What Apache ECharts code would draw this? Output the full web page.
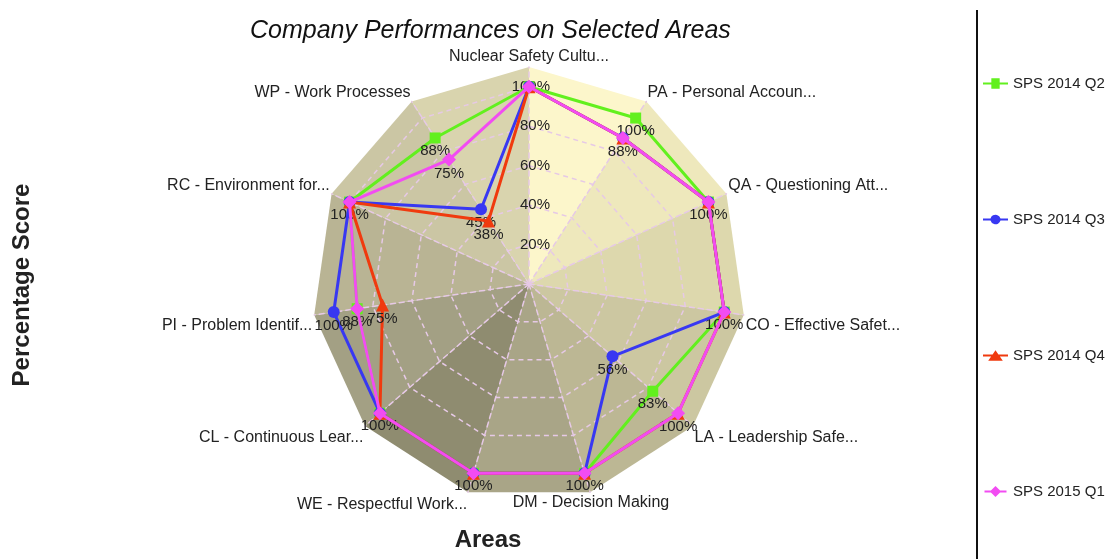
<!DOCTYPE html>
<html>
<head>
<meta charset="utf-8">
<title>Company Performances on Selected Areas</title>
<script src="https://cdn.jsdelivr.net/npm/echarts@6/dist/echarts.min.js"></script>
</head>
<body style="margin:0">
<div id="main" style="width:1114px;height:559px;"></div>
<script type="text/javascript">
// areas, clockwise from the top
var areas = ['Nuclear Safety Cultu...', 'PA - Personal Accoun...', 'QA - Questioning Att...',
    'CO - Effective Safet...', 'LA - Leadership Safe...', 'DM - Decision Making',
    'WE - Respectful Work...', 'CL - Continuous Lear...', 'PI - Problem Identif...',
    'RC - Environment for...', 'WP - Work Processes'];
var seriesNames = ['SPS 2014 Q2', 'SPS 2014 Q3', 'SPS 2014 Q4', 'SPS 2015 Q1'];
var q2_2014 = [100, 100, 100, 100, 83, 100, 100, 100, 88, 100, 88];
var q3_2014 = [100, 88, 100, 100, 56, 100, 100, 100, 100, 100, 45];
var q4_2014 = [100, 88, 100, 100, 100, 100, 100, 100, 75, 100, 38];
var q1_2015 = [100, 88, 100, 100, 100, 100, 100, 100, 88, 100, 75];
var scoreMax = 110;
var scoreTicks = [20, 40, 60, 80, 100];

var colors = ['#62f01e', '#3838f2', '#f03a0e', '#f24cf2'];
var symbols = ['rect', 'circle', 'triangle', 'diamond'];
var symbolSizes = [11, 12, 13, 14];
var legendIcons = [
    'path://M0,4H8V0H16V4H24V6H16V10H8V6H0Z',
    'path://M0,4H7.2A5,5 0 0 1 16.8,4H24V6H16.8A5,5 0 0 1 7.2,6H0Z',
    'path://M0,4H9.2L12,0L14.8,4H24V6H16.2L19,10H5L7.8,6H0Z',
    'path://M0,4H7L12,-1L17,4H24V6H17L12,11L7,6H0Z'
];
// shading of each wedge, clockwise from the Nuclear -> PA wedge
var wedgeColors = ['#fcf6cb', '#eee8bc', '#ddd8ad', '#ccc7a1', '#bcb794', '#a9a587',
    '#8f8c70', '#a3a084', '#b9b494', '#cbc6a4', '#d9d4ae'];

// echarts radar runs counter-clockwise, so flip everything after the first axis
function ccw(arr) {
    return [arr[0]].concat(arr.slice(1).reverse());
}

var allData = [q2_2014, q3_2014, q4_2014, q1_2015].map(ccw);
var fontFamily = 'Liberation Sans, Arial, sans-serif';

var myChart = echarts.init(document.getElementById('main'));

var indicator = ccw(areas).map(function (name, i) {
    var ind = { name: name, min: 0, max: scoreMax };
    if (i === 0) {
        ind.axisLabel = {
            show: true,
            color: '#222',
            fontSize: 15,
            fontFamily: fontFamily,
            margin: -21,
            formatter: function (v) {
                return scoreTicks.indexOf(Math.round(v)) >= 0 ? Math.round(v) + '%' : '';
            }
        };
    }
    return ind;
});

var series = [];
// background wedges
wedgeColors.forEach(function (c, k) {
    var v = areas.map(function () { return 0; });
    v[k] = scoreMax;
    v[(k + 1) % areas.length] = scoreMax;
    series.push({
        type: 'radar',
        silent: true,
        z: -5,
        symbol: 'none',
        lineStyle: { width: 0, opacity: 0 },
        areaStyle: { color: c, opacity: 1 },
        data: [{ value: ccw(v) }]
    });
});

seriesNames.forEach(function (name, si) {
    series.push({
        type: 'radar',
        name: name,
        z: 3 + si,
        symbol: symbols[si],
        symbolSize: symbolSizes[si],
        lineStyle: { width: 3, color: colors[si] },
        itemStyle: { color: colors[si] },
        label: {
            show: true,
            position: 'bottom',
            distance: 0,
            color: '#222',
            fontSize: 15,
            fontFamily: fontFamily,
            formatter: function (p) {
                var d = p.dimensionIndex;
                if (d != null) {
                    // the top axis already carries its 100% tick label
                    if (d === 0 && p.value === 100) return '';
                    for (var k = 0; k < si; k++) {
                        if (allData[k][d] === p.value) return '';
                    }
                }
                return p.value + '%';
            }
        },
        data: [{ name: name, value: allData[si] }]
    });
});

// names on the lower half sit below their corner, upper half above
var lowerNames = areas.slice(3, 9);
function nameStyle(name) {
    if (name === areas[5]) return 'dm';
    if (lowerNames.indexOf(name) >= 0) return 'lo';
    if (name === areas[0]) return 'mid';
    return 'hi';
}

var option = {
    animation: false,
    backgroundColor: '#fff',
    title: {
        text: 'Company Performances on Selected Areas',
        left: 245,
        top: 14,
        textStyle: { fontStyle: 'italic', fontWeight: 'normal', fontSize: 25, color: '#111', fontFamily: fontFamily }
    },
    legend: {
        orient: 'vertical',
        left: 978,
        top: 71,
        itemGap: 121,
        itemWidth: 25,
        itemHeight: 11,
        selectedMode: false,
        textStyle: { fontSize: 15, color: '#222', fontFamily: fontFamily },
        data: seriesNames.map(function (n, i) { return { name: n, icon: legendIcons[i] }; })
    },
    radar: {
        center: [529, 284],
        radius: 217,
        shape: 'polygon',
        splitNumber: 11,
        z: 0,
        axisName: {
            color: '#222',
            fontSize: 16,
            fontFamily: fontFamily,
            formatter: function (name) {
                return '{' + nameStyle(name) + '|' + name + '}';
            },
            rich: {
                hi: { fontSize: 16, fontFamily: fontFamily, color: '#222', padding: [0, 0, 15, 0] },
                mid: { fontSize: 16, fontFamily: fontFamily, color: '#222', padding: [0, 0, 0, 0] },
                lo: { fontSize: 16, fontFamily: fontFamily, color: '#222', padding: [20, 0, 0, 0] },
                dm: { fontSize: 16, fontFamily: fontFamily, color: '#222', padding: [16, 0, 0, -78] }
            }
        },
        nameGap: 2,
        axisLine: { lineStyle: { color: '#e6c9e6', width: 1.5, type: [5, 4] } },
        splitLine: { lineStyle: { color: ['#e6c9e6', 'rgba(0,0,0,0)'], width: 1.5, type: [5, 4] } },
        splitArea: { show: false },
        axisLabel: { show: false },
        indicator: indicator
    },
    graphic: [
        {
            type: 'text',
            x: 22, y: 285,
            rotation: Math.PI / 2,
            style: { text: 'Percentage Score', font: 'bold 24px ' + fontFamily, fill: '#222', align: 'center', verticalAlign: 'middle' }
        },
        {
            type: 'text',
            x: 488, y: 540,
            style: { text: 'Areas', font: 'bold 24px ' + fontFamily, fill: '#222', align: 'center', verticalAlign: 'middle' }
        },
        {
            type: 'line',
            shape: { x1: 977, y1: 10, x2: 977, y2: 559 },
            style: { stroke: '#111', lineWidth: 2 }
        }
    ],
    series: series
};

myChart.setOption(option);
</script>
</body>
</html>
